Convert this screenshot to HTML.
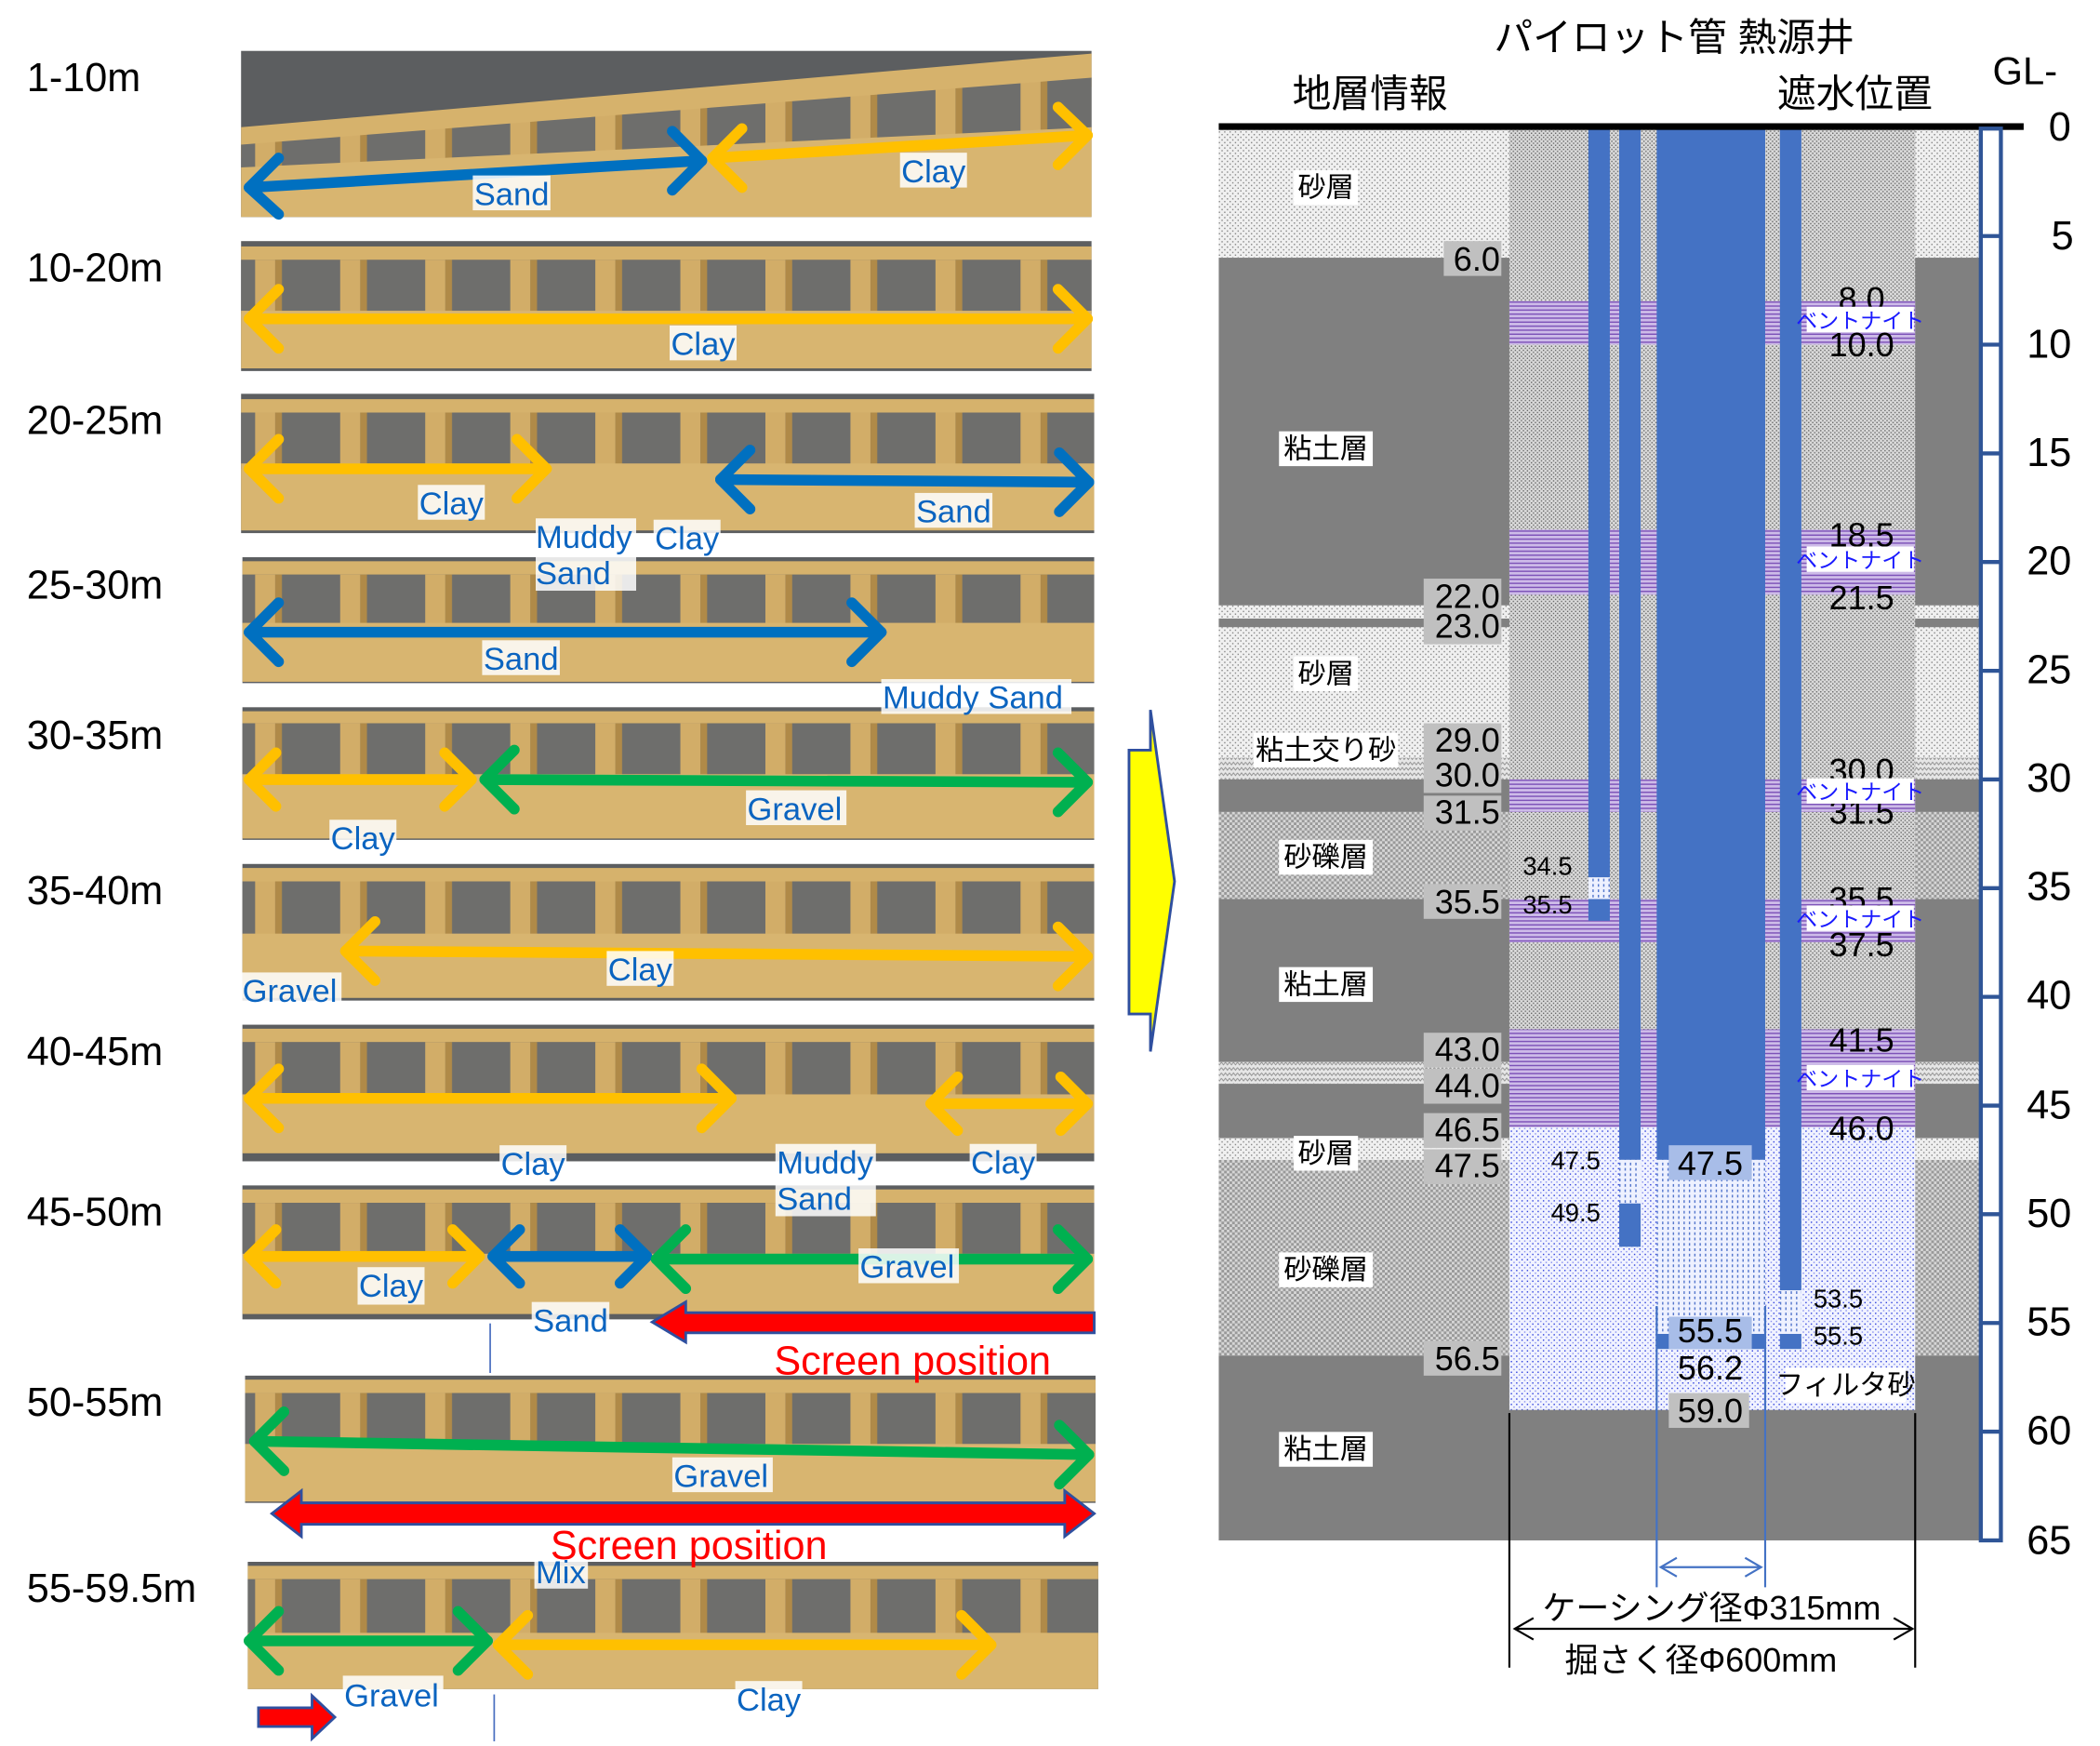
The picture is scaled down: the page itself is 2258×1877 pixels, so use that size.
<!DOCTYPE html>
<html><head><meta charset="utf-8"><style>html,body{margin:0;padding:0;background:#fff}svg{display:block}</style></head>
<body>
<svg xmlns="http://www.w3.org/2000/svg" width="2258" height="1877" viewBox="0 0 1568 1303.5" preserveAspectRatio="none" font-family="Liberation Sans, Noto Sans CJK JP, sans-serif">
<defs>
<pattern id="sand" width="4" height="4" patternUnits="userSpaceOnUse"><rect width="4" height="4" fill="#f0f0f0"/><rect x="0" y="0" width="1" height="1" fill="#8a8a8a"/><rect x="2" y="2" width="1" height="1" fill="#8a8a8a"/></pattern>
<pattern id="mix" width="6" height="4" patternUnits="userSpaceOnUse"><rect width="6" height="4" fill="#e6e6e6"/><path d="M0 1 L1.5 3 L3 1 L4.5 3 L6 1" stroke="#888" stroke-width="0.6" fill="none"/></pattern>
<pattern id="bore" width="3" height="3" patternUnits="userSpaceOnUse"><rect width="3" height="3" fill="#dadada"/><rect x="0" y="0" width="1" height="1" fill="#6a6a6a"/><rect x="1.5" y="1.5" width="1" height="1" fill="#6a6a6a"/></pattern>
<pattern id="grav" width="4" height="4" patternUnits="userSpaceOnUse"><rect width="4" height="4" fill="#d6d6d6"/><rect width="2" height="2" fill="#999"/><rect x="2" y="2" width="2" height="2" fill="#999"/></pattern>
<pattern id="bent" width="4" height="3" patternUnits="userSpaceOnUse"><rect width="4" height="3" fill="#cdbbe8"/><rect width="4" height="1" fill="#7d52b8"/></pattern>
<pattern id="filt" width="4" height="4" patternUnits="userSpaceOnUse"><rect width="4" height="4" fill="#f1f3ff"/><rect x="0" y="0" width="1" height="1" fill="#3344dd"/><rect x="2" y="2" width="1" height="1" fill="#8890ee"/></pattern>
<pattern id="scr" width="4" height="4" patternUnits="userSpaceOnUse"><rect width="4" height="4" fill="#eef1ff"/><rect x="1" y="0" width="1" height="2" fill="#5577cc"/></pattern>
<pattern id="comp" width="63.5" height="10" patternUnits="userSpaceOnUse"><rect width="63.5" height="10" fill="#6e6e6c"/><rect x="0" width="15" height="10" fill="#d2ad68"/><rect x="15" width="5" height="10" fill="#b08a48"/></pattern>
</defs>

<!-- ============ LEFT: core boxes ============ -->
<g font-size="30" fill="#000">
<text x="20" y="68">1-10m</text>
<text x="20" y="210">10-20m</text>
<text x="20" y="324">20-25m</text>
<text x="20" y="447">25-30m</text>
<text x="20" y="559">30-35m</text>
<text x="20" y="675">35-40m</text>
<text x="20" y="795">40-45m</text>
<text x="20" y="915">45-50m</text>
<text x="20" y="1057">50-55m</text>
<text x="20" y="1196">55-59.5m</text>
</g>

<g id="boxes">
<!-- box 1 -->
<rect x="180" y="38" width="635" height="124" fill="#5c5e60"/>
<polygon points="180,95 815,40 815,65 180,118" fill="#d6b26c"/>
<polygon points="180,108 815,58 815,100 180,135" fill="url(#comp)"/>
<polygon points="180,125 815,95 815,162 180,162" fill="#d8b570"/>
<!-- box 2 -->
<rect x="180" y="180" width="635" height="97" fill="#5c5e60"/>
<rect x="180" y="184" width="635" height="10" fill="#d6b26c"/>
<rect x="180" y="194" width="635" height="40" fill="url(#comp)"/>
<rect x="180" y="232" width="635" height="43" fill="#d8b570"/>
<!-- box 3 -->
<rect x="180" y="294" width="637" height="104" fill="#5c5e60"/>
<rect x="180" y="298" width="637" height="10" fill="#d6b26c"/>
<rect x="180" y="308" width="637" height="42" fill="url(#comp)"/>
<rect x="180" y="346" width="637" height="50" fill="#d8b570"/>
<!-- box 4 -->
<rect x="181" y="416" width="636" height="94" fill="#5c5e60"/>
<rect x="181" y="419" width="636" height="10" fill="#d6b26c"/>
<rect x="181" y="429" width="636" height="38" fill="url(#comp)"/>
<rect x="181" y="465" width="636" height="44" fill="#d8b570"/>
<!-- box 5 -->
<rect x="181" y="528" width="636" height="99" fill="#5c5e60"/>
<rect x="181" y="531" width="636" height="9" fill="#d6b26c"/>
<rect x="181" y="540" width="636" height="40" fill="url(#comp)"/>
<rect x="181" y="578" width="636" height="48" fill="#d8b570"/>
<!-- box 6 -->
<rect x="181" y="645" width="636" height="102" fill="#5c5e60"/>
<rect x="181" y="648" width="636" height="10" fill="#d6b26c"/>
<rect x="181" y="658" width="636" height="40" fill="url(#comp)"/>
<rect x="181" y="697" width="636" height="48" fill="#d8b570"/>
<!-- box 7 -->
<rect x="181" y="765" width="636" height="102" fill="#5c5e60"/>
<rect x="181" y="768" width="636" height="10" fill="#d6b26c"/>
<rect x="181" y="778" width="636" height="40" fill="url(#comp)"/>
<rect x="181" y="817" width="636" height="44" fill="#d8b570"/>
<!-- box 8 -->
<rect x="181" y="885" width="636" height="100" fill="#5c5e60"/>
<rect x="181" y="888" width="636" height="10" fill="#d6b26c"/>
<rect x="181" y="898" width="636" height="40" fill="url(#comp)"/>
<rect x="181" y="936" width="636" height="45" fill="#d8b570"/>
<!-- box 9 -->
<rect x="183" y="1027" width="635" height="95" fill="#5c5e60"/>
<rect x="183" y="1030" width="635" height="10" fill="#d6b26c"/>
<rect x="183" y="1040" width="635" height="40" fill="url(#comp)"/>
<rect x="183" y="1078" width="635" height="43" fill="#d8b570"/>
<!-- box 10 -->
<rect x="185" y="1166" width="635" height="95" fill="#5c5e60"/>
<rect x="185" y="1169" width="635" height="10" fill="#d6b26c"/>
<rect x="185" y="1179" width="635" height="42" fill="url(#comp)"/>
<rect x="185" y="1219" width="635" height="42" fill="#d8b570"/>
</g>

<!-- arrows -->
<g fill="none" stroke-width="8" stroke-linecap="round" stroke-linejoin="round">
<g stroke="#0070c0"><line x1="186" y1="140" x2="524" y2="120"/><polyline points="208,118 186,140 208,160"/><polyline points="502,98 524,120 502,142"/>
<line x1="186" y1="472" x2="658" y2="472"/><polyline points="208,450 186,472 208,494"/><polyline points="636,450 658,472 636,494"/>
<line x1="538" y1="358" x2="813" y2="360"/><polyline points="560,336 538,358 560,380"/><polyline points="791,338 813,360 791,382"/>
<line x1="368" y1="938" x2="483" y2="938"/><polyline points="388,918 368,938 388,958"/><polyline points="463,918 483,938 463,958"/>
</g>
<g stroke="#ffc000"><line x1="532" y1="118" x2="812" y2="101"/><polyline points="554,96 532,118 554,140"/><polyline points="790,80 812,101 790,123"/>
<line x1="186" y1="238" x2="812" y2="238"/><polyline points="208,216 186,238 208,260"/><polyline points="790,216 812,238 790,260"/>
<line x1="186" y1="350" x2="408" y2="350"/><polyline points="208,328 186,350 208,372"/><polyline points="386,328 408,350 386,372"/>
<line x1="186" y1="582" x2="352" y2="582"/><polyline points="206,562 186,582 206,602"/><polyline points="332,562 352,582 332,602"/>
<line x1="258" y1="710" x2="812" y2="714"/><polyline points="280,688 258,710 280,732"/><polyline points="790,692 812,714 790,736"/>
<line x1="186" y1="820" x2="546" y2="820"/><polyline points="208,798 186,820 208,842"/><polyline points="524,798 546,820 524,842"/>
<line x1="695" y1="824" x2="812" y2="824"/><polyline points="715,804 695,824 715,844"/><polyline points="792,804 812,824 792,844"/>
<line x1="186" y1="938" x2="358" y2="938"/><polyline points="206,918 186,938 206,958"/><polyline points="338,918 358,938 338,958"/>
<line x1="372" y1="1228" x2="740" y2="1228"/><polyline points="394,1206 372,1228 394,1250"/><polyline points="718,1206 740,1228 718,1250"/>
</g>
<g stroke="#00b050"><line x1="362" y1="582" x2="812" y2="584"/><polyline points="384,560 362,582 384,604"/><polyline points="790,562 812,584 790,606"/>
<line x1="490" y1="940" x2="812" y2="940"/><polyline points="512,918 490,940 512,962"/><polyline points="790,918 812,940 790,962"/>
<line x1="190" y1="1076" x2="813" y2="1086"/><polyline points="212,1054 190,1076 212,1098"/><polyline points="791,1064 813,1086 791,1108"/>
<line x1="186" y1="1225" x2="364" y2="1225"/><polyline points="208,1203 186,1225 208,1247"/><polyline points="342,1203 364,1225 342,1247"/>
</g>
</g>
<!-- red arrows -->
<g fill="#ff0000" stroke="#2f4f9f" stroke-width="2">
<polygon points="487,987 512,972 512,980 817,980 817,995 512,995 512,1002"/>
<polygon points="203,1130 225,1113 225,1122 795,1122 795,1113 817,1130 795,1147 795,1138 225,1138 225,1147"/>
<polygon points="193,1275 233,1275 233,1266 250,1282 233,1298 233,1289 193,1289"/>
</g>
<line x1="366" y1="988" x2="366" y2="1025" stroke="#4a6fc0" stroke-width="1.2"/>
<line x1="369" y1="1265" x2="369" y2="1300" stroke="#4a6fc0" stroke-width="1.2"/>

<!-- labels -->
<g font-size="24" fill="#0b64c0">
<g fill="#fff" fill-opacity="0.85">
<rect x="353" y="131" width="58" height="26"/><rect x="672" y="114" width="50" height="26"/>
<rect x="500" y="243" width="50" height="26"/>
<rect x="312" y="362" width="50" height="26"/><rect x="683" y="368" width="58" height="26"/>
<rect x="400" y="387" width="75" height="54"/><rect x="488" y="388" width="50" height="26"/>
<rect x="360" y="478" width="58" height="26"/><rect x="658" y="507" width="142" height="26"/>
<rect x="246" y="612" width="50" height="26"/><rect x="557" y="590" width="75" height="26"/>
<rect x="180" y="726" width="75" height="26"/><rect x="453" y="710" width="50" height="26"/>
<rect x="373" y="855" width="50" height="26"/><rect x="579" y="854" width="75" height="54"/><rect x="724" y="854" width="50" height="26"/>
<rect x="267" y="946" width="50" height="28"/><rect x="397" y="972" width="58" height="26"/><rect x="641" y="932" width="75" height="26"/>
<rect x="502" y="1088" width="75" height="26"/>
<rect x="399" y="1158" width="40" height="28"/><rect x="256" y="1251" width="75" height="28"/><rect x="549" y="1255" width="50" height="28"/>
</g>
<text x="354" y="153">Sand</text><text x="673" y="136">Clay</text>
<text x="501" y="265">Clay</text>
<text x="313" y="384">Clay</text><text x="684" y="390">Sand</text>
<text x="400" y="409">Muddy</text><text x="400" y="436">Sand</text><text x="489" y="410">Clay</text>
<text x="361" y="500">Sand</text><text x="659" y="529">Muddy Sand</text>
<text x="247" y="634">Clay</text><text x="558" y="612">Gravel</text>
<text x="181" y="748">Gravel</text><text x="454" y="732">Clay</text>
<text x="374" y="877">Clay</text><text x="580" y="876">Muddy</text><text x="580" y="903">Sand</text><text x="725" y="876">Clay</text>
<text x="268" y="968">Clay</text><text x="398" y="994">Sand</text><text x="642" y="954">Gravel</text>
<text x="503" y="1110">Gravel</text>
<text x="400" y="1182">Mix</text><text x="257" y="1274">Gravel</text><text x="550" y="1277">Clay</text>
</g>
<g font-size="30" fill="#ff0000">
<text x="578" y="1026">Screen position</text>
<text x="411" y="1164">Screen position</text>
</g>

<!-- yellow arrow -->
<polygon points="843,560 859,560 859,530 877,658 859,785 859,757 843,757" fill="#ffff00" stroke="#2f4f9f" stroke-width="2"/>

<!-- ============ RIGHT: diagram ============ -->
<!-- strata left col 910-1127 and right col 1430-1478 -->
<g id="strata">
<rect x="910" y="95" width="568" height="97.4" fill="url(#sand)"/>
<rect x="910" y="192.4" width="568" height="259.6" fill="#808080"/>
<rect x="910" y="452" width="568" height="9.8" fill="url(#sand)"/>
<rect x="910" y="461.8" width="568" height="6.5" fill="#808080"/>
<rect x="910" y="468.3" width="568" height="97.4" fill="url(#sand)"/>
<rect x="910" y="565.7" width="568" height="16.2" fill="url(#mix)"/>
<rect x="910" y="581.9" width="568" height="24.3" fill="#808080"/>
<rect x="910" y="606.2" width="568" height="65" fill="url(#grav)"/>
<rect x="910" y="671.2" width="568" height="121.7" fill="#808080"/>
<rect x="910" y="792.9" width="568" height="16.2" fill="url(#mix)"/>
<rect x="910" y="809.1" width="568" height="40.6" fill="#808080"/>
<rect x="910" y="849.7" width="568" height="16.2" fill="url(#sand)"/>
<rect x="910" y="865.9" width="568" height="146.1" fill="url(#grav)"/>
<rect x="910" y="1012" width="568" height="138" fill="#808080"/>
</g>
<!-- borehole -->
<rect x="1127" y="95" width="303" height="746.6" fill="url(#bore)"/>
<g fill="url(#bent)">
<rect x="1127" y="224.8" width="303" height="32.5"/>
<rect x="1127" y="395.3" width="303" height="48.7"/>
<rect x="1127" y="581.9" width="303" height="24.3"/>
<rect x="1127" y="671.2" width="303" height="32.4"/>
<rect x="1127" y="768.5" width="303" height="73.1"/>
</g>
<rect x="1127" y="841.6" width="303" height="211" fill="url(#filt)"/>
<!-- pipes -->
<g fill="#4472c4">
<rect x="1186" y="95" width="16" height="560"/>
<rect x="1186" y="671.2" width="16" height="16.2"/>
<rect x="1209" y="95" width="16" height="770.9"/>
<rect x="1209" y="898.4" width="16" height="32.4"/>
<rect x="1237" y="95" width="81" height="770.9"/>
<rect x="1329" y="95" width="16" height="868.3"/>
<rect x="1329" y="995.8" width="16" height="11.3"/>
<rect x="1237" y="995.8" width="81" height="11.3"/>
</g>
<rect x="1186" y="655" width="16" height="16.2" fill="url(#scr)"/>
<rect x="1209" y="865.9" width="16" height="32.5" fill="url(#scr)"/>
<rect x="1237" y="865.9" width="81" height="129.9" fill="url(#scr)"/>
<rect x="1329" y="963.3" width="16" height="32.5" fill="url(#scr)"/>

<!-- top line -->
<rect x="910" y="92" width="601" height="5" fill="#000"/>
<!-- scale bar -->
<rect x="1479" y="96" width="15" height="1054" fill="#fff" stroke="#2f5597" stroke-width="3"/>
<g stroke="#2f5597" stroke-width="3">
<line x1="1479" y1="176.2" x2="1494" y2="176.2"/><line x1="1479" y1="257.3" x2="1494" y2="257.3"/><line x1="1479" y1="338.5" x2="1494" y2="338.5"/><line x1="1479" y1="419.6" x2="1494" y2="419.6"/><line x1="1479" y1="500.8" x2="1494" y2="500.8"/><line x1="1479" y1="581.9" x2="1494" y2="581.9"/><line x1="1479" y1="663.1" x2="1494" y2="663.1"/><line x1="1479" y1="744.2" x2="1494" y2="744.2"/><line x1="1479" y1="825.4" x2="1494" y2="825.4"/><line x1="1479" y1="906.5" x2="1494" y2="906.5"/><line x1="1479" y1="987.7" x2="1494" y2="987.7"/><line x1="1479" y1="1068.8" x2="1494" y2="1068.8"/>
</g>
<g font-size="30" fill="#000" text-anchor="middle">
<text x="1538" y="105">0</text><text x="1540" y="186">5</text><text x="1530" y="267">10</text><text x="1530" y="348">15</text><text x="1530" y="429">20</text><text x="1530" y="510">25</text><text x="1530" y="591">30</text><text x="1530" y="672">35</text><text x="1530" y="753">40</text><text x="1530" y="835">45</text><text x="1530" y="916">50</text><text x="1530" y="997">55</text><text x="1530" y="1078">60</text><text x="1530" y="1160">65</text>
</g>

<!-- headers -->
<g font-size="29" fill="#000" text-anchor="middle">
<text x="1250" y="38">パイロット管 熱源井</text>
<text x="1023" y="80">地層情報</text>
<text x="1385" y="80">遮水位置</text>
<text x="1512" y="63">GL-</text>
</g>

<!-- layer names -->
<g font-size="21" text-anchor="middle">
<g fill="#fff">
<rect x="966" y="127" width="48" height="26"/><rect x="955" y="322" width="70" height="26"/><rect x="966" y="490" width="48" height="26"/><rect x="936" y="547" width="108" height="26"/><rect x="955" y="627" width="70" height="26"/><rect x="955" y="722" width="70" height="26"/><rect x="966" y="848" width="48" height="26"/><rect x="955" y="935" width="70" height="26"/><rect x="955" y="1069" width="70" height="26"/>
</g>
<g fill="#000">
<text x="990" y="147">砂層</text><text x="990" y="342">粘土層</text><text x="990" y="510">砂層</text><text x="990" y="567">粘土交り砂</text><text x="990" y="647">砂礫層</text><text x="990" y="742">粘土層</text><text x="990" y="868">砂層</text><text x="990" y="955">砂礫層</text><text x="990" y="1089">粘土層</text>
</g>
</g>

<!-- left depth labels -->
<g fill="#c0c0c0">
<rect x="1078" y="180" width="43" height="26"/><rect x="1063" y="432" width="58" height="26"/><rect x="1063" y="455" width="58" height="26"/><rect x="1063" y="540" width="58" height="26"/><rect x="1063" y="566" width="58" height="26"/><rect x="1063" y="594" width="58" height="26"/><rect x="1063" y="660" width="58" height="26"/><rect x="1063" y="771" width="58" height="26"/><rect x="1063" y="798" width="58" height="26"/><rect x="1063" y="831" width="58" height="26"/><rect x="1063" y="858" width="58" height="26"/><rect x="1063" y="1001" width="58" height="26"/>
</g>
<g font-size="25" fill="#000" text-anchor="end">
<text x="1120" y="202">6.0</text><text x="1120" y="454">22.0</text><text x="1120" y="476">23.0</text><text x="1120" y="561">29.0</text><text x="1120" y="587">30.0</text><text x="1120" y="615">31.5</text><text x="1120" y="682">35.5</text><text x="1120" y="792">43.0</text><text x="1120" y="819">44.0</text><text x="1120" y="852">46.5</text><text x="1120" y="879">47.5</text><text x="1120" y="1023">56.5</text>
</g>

<!-- right labels -->
<g font-size="25" fill="#000" text-anchor="middle">
<text x="1390" y="232">8.0</text><text x="1390" y="266">10.0</text>
<text x="1390" y="408">18.5</text><text x="1390" y="455">21.5</text>
<text x="1390" y="584">30.0</text><text x="1390" y="615">31.5</text>
<text x="1390" y="680">35.5</text><text x="1390" y="714">37.5</text>
<text x="1390" y="785">41.5</text><text x="1390" y="851">46.0</text>
</g>
<g fill="#fff"><rect x="1349" y="229" width="80" height="19"/><rect x="1349" y="408" width="80" height="19"/><rect x="1349" y="581" width="80" height="19"/><rect x="1349" y="676" width="80" height="19"/><rect x="1349" y="795" width="80" height="19"/></g>
<g font-size="16" fill="#1a1aff" text-anchor="middle">
<text x="1389" y="245">ベントナイト</text><text x="1389" y="424">ベントナイト</text><text x="1389" y="597">ベントナイト</text><text x="1389" y="692">ベントナイト</text><text x="1389" y="811">ベントナイト</text>
</g>
<g font-size="19" fill="#000">
<text x="1137" y="653">34.5</text><text x="1137" y="682">35.5</text>
<text x="1158" y="873">47.5</text><text x="1158" y="912">49.5</text>
<text x="1354" y="976">53.5</text><text x="1354" y="1004">55.5</text>
</g>
<rect x="1246" y="855" width="62" height="26" fill="#a8bde8"/>
<rect x="1246" y="983" width="62" height="24" fill="#a8bde8"/>
<rect x="1246" y="1040" width="60" height="26" fill="#c0c0c0"/>
<g font-size="25" fill="#000" text-anchor="middle">
<text x="1277" y="877">47.5</text><text x="1277" y="1002">55.5</text><text x="1277" y="1030">56.2</text><text x="1277" y="1062">59.0</text>
</g>
<rect x="1333" y="1021" width="90" height="26" fill="#fff"/>
<text x="1378" y="1041" font-size="21" text-anchor="middle" fill="#000">フィルタ砂</text>

<!-- dimension lines -->
<g stroke="#000" stroke-width="1.5" fill="none">
<line x1="1127" y1="1055" x2="1127" y2="1245"/><line x1="1430" y1="1055" x2="1430" y2="1245"/>
<line x1="1131" y1="1216" x2="1428" y2="1216"/><polyline points="1145,1208 1131,1216 1145,1224"/><polyline points="1414,1208 1428,1216 1414,1224"/>
</g>
<g stroke="#4472c4" stroke-width="1.5" fill="none">
<line x1="1237" y1="975" x2="1237" y2="1185"/><line x1="1318" y1="975" x2="1318" y2="1185"/>
<line x1="1240" y1="1170" x2="1315" y2="1170"/><polyline points="1252,1163 1240,1170 1252,1177"/><polyline points="1303,1163 1315,1170 1303,1177"/>
</g>
<g font-size="25" fill="#000" text-anchor="middle">
<text x="1278" y="1209">ケーシング径Φ315mm</text>
<text x="1270" y="1248">掘さく径Φ600mm</text>
</g>
</svg>
</body></html>
